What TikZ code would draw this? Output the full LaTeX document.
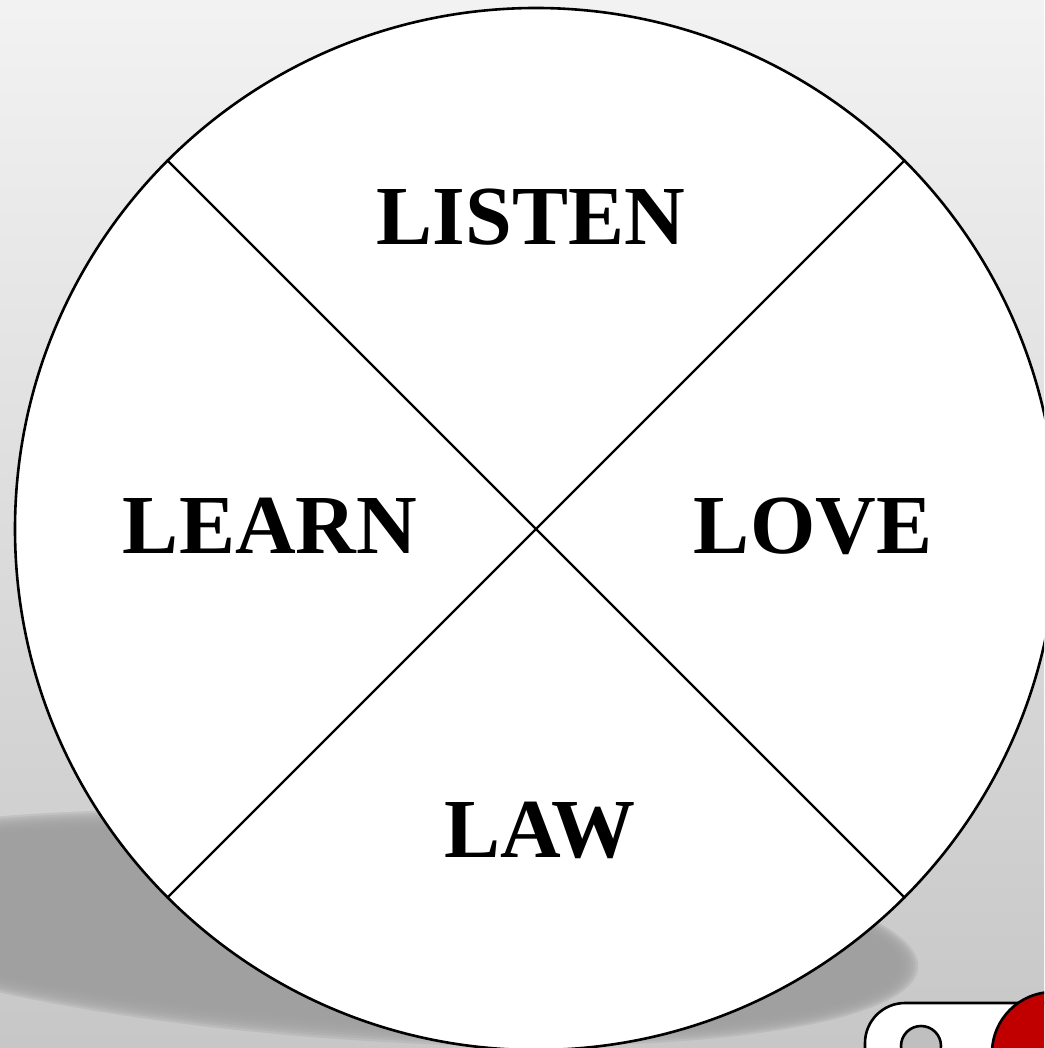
\documentclass[tikz,border=0pt]{standalone}
\usepackage{fontspec}
\setmainfont{Liberation Serif}
\definecolor{redbtn}{HTML}{C00000}
\definecolor{shadowgray}{HTML}{A0A0A0}
\tikzset{
  word/.style={font=\fontsize{84}{90}\selectfont\bfseries, anchor=base, inner sep=0pt},
  rim/.style={draw=black, line width=2.6pt},
  spoke/.style={draw=black, line width=2.4pt}
}
\begin{document}
\begin{tikzpicture}[x=1pt,y=-1pt]
\useasboundingbox (0,0) rectangle (1044,1048);
\begin{scope}
\clip (0,0) rectangle (1044,1048);
% background
\shade[top color=black!5, bottom color=black!22] (0,0) rectangle (1044,1048);
% shadow (soft edged)
\foreach \k in {0,...,9}{
  \fill[shadowgray, opacity=0.3, rotate around={-4:(350,928)}] (350,928) ellipse ({548+2.4*\k} and {90+2.4*\k});
}
% wheel
\node[circle, rim, fill=white, minimum size=1042pt, inner sep=0pt] (wheel) at (536,529) {};
\draw[spoke] (wheel.north west) -- (wheel.south east);
\draw[spoke] (wheel.north east) -- (wheel.south west);
\node[word] (listen) at (531,245) {LISTEN};
\node[word] (learn) at (270,553) {LEARN};
\node[word] (love) at (813,553) {LOVE};
\node[word] (law) at (540,857) {LAW};
% bottom-right widget
\draw[line width=2.6pt, fill=white, rounded corners=40pt] (865,1110) -- (865,1003) -- (1100,1003) -- (1100,1110);
\node[circle, draw=black, line width=2.6pt, fill=black!25, minimum size=40pt, inner sep=0pt] (knob) at (921,1046) {};
\node[circle, draw=black, line width=2.6pt, fill=redbtn, minimum size=122pt, inner sep=0pt] (redbtn) at (1053,1053) {};
\end{scope}
\end{tikzpicture}
\end{document}
